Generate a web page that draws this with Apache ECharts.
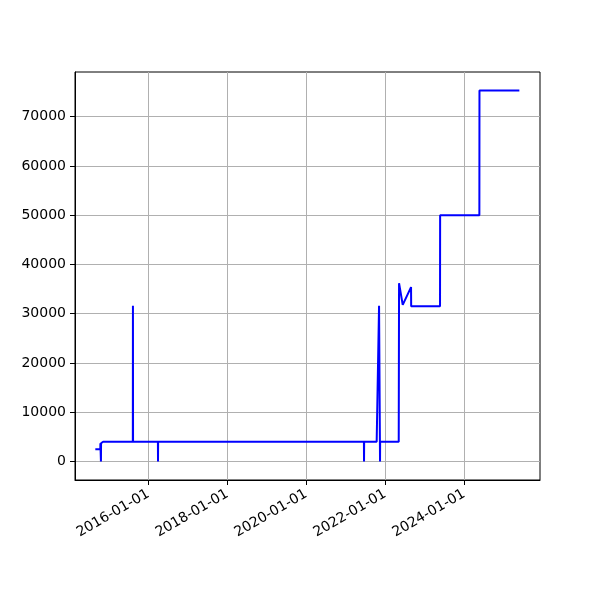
<!DOCTYPE html>
<html>
<head>
<meta charset="utf-8">
<script src="https://cdn.jsdelivr.net/npm/echarts@6/dist/echarts.min.js"></script>
<style>html,body{margin:0;padding:0;background:#fff}#c{width:600px;height:600px}</style>
</head>
<body>
<div id="c"></div>
<script>
const dates = [
  '2014-08-29','2014-10-14','2014-10-15','2014-10-19','2014-10-20','2014-10-21','2014-11-08','2014-11-09',
  '2015-08-11','2015-08-12','2015-08-13',
  '2016-03-30','2016-03-31','2016-04-01',
  '2021-06-18','2021-06-19','2021-06-20',
  '2021-10-14','2021-11-05','2021-11-14','2021-11-15',
  '2022-05-06','2022-05-09','2022-05-20','2022-06-12','2022-08-28','2022-08-29',
  '2023-05-23','2023-05-24','2024-05-21','2024-05-22','2025-05-26'
];
const values = [
  2500,2500,3700,3700,0,3700,3700,4000,
  4000,31600,4000,
  4000,0,4000,
  4000,0,4000,
  4000,31600,0,4000,
  4000,36200,36200,31800,35400,31500,
  31500,50000,50000,75300,75300
];
const xTickLabels = ['2016-01-01','2018-01-01','2020-01-01','2022-01-01','2024-01-01'];
const yTickValues = [0,10000,20000,30000,40000,50000,60000,70000];

const parse = s => +echarts.time.parse(s);
const seriesData = dates.map((d,i)=>[parse(d), values[i]]);
const xTicks = xTickLabels.map(parse);
const labelOf = v => { const i = xTicks.indexOf(v); return i >= 0 ? xTickLabels[i] : ''; };

const chart = echarts.init(document.getElementById('c'), null, {renderer:'canvas'});
const font = {fontFamily:'DejaVu Sans', fontSize:14, color:'#000'};
chart.setOption({
  animation:false,
  backgroundColor:'#fff',
  grid:{left:75, right:60, top:72, bottom:120, show:true, borderColor:'#000', borderWidth:1, backgroundColor:'transparent'},
  xAxis:{
    type:'value',
    scale:true,
    min: parse('2014-02-22'),
    max: parse('2025-12-03'),
    axisLine:{show:true, onZero:false, lineStyle:{color:'#000', width:1}},
    axisTick:{show:true, length:5, lineStyle:{color:'#000', width:1}, customValues: xTicks},
    axisLabel:Object.assign({rotate:30, margin:13, customValues: xTicks, formatter: labelOf}, font),
    splitLine:{show:true, lineStyle:{color:'#b0b0b0', width:1}}
  },
  yAxis:{
    type:'value',
    min:-3765, max:79065,
    axisLine:{show:true, onZero:false, lineStyle:{color:'#000', width:1}},
    axisTick:{show:true, length:5, lineStyle:{color:'#000', width:1}, customValues: yTickValues},
    axisLabel:Object.assign({margin:9, customValues: yTickValues, formatter: v => String(v)}, font),
    splitLine:{show:true, lineStyle:{color:'#b0b0b0', width:1}}
  },
  series:[{
    type:'line',
    data:seriesData,
    showSymbol:false,
    symbol:'none',
    lineStyle:{color:'#0000ff', width:2},
    itemStyle:{color:'#0000ff'}
  }]
});
</script>
</body>
</html>
